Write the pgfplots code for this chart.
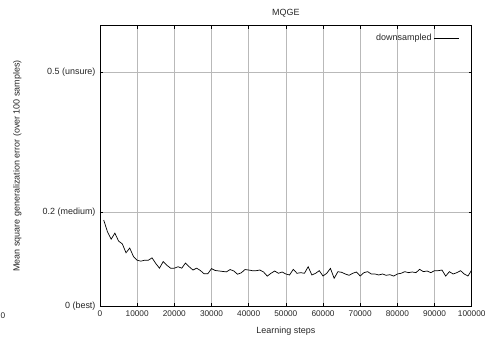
\documentclass[border=0pt]{standalone}
\usepackage{pgfplots}
\pgfplotsset{compat=1.18}
\usepackage{fontspec}
\setmainfont{Liberation Sans}

\pgfplotstableread{
step err
1000 0.184
2000 0.159
3000 0.143
4000 0.156
5000 0.139
6000 0.133
7000 0.114
8000 0.124
9000 0.106
10000 0.098
11000 0.096
12000 0.098
13000 0.098
14000 0.103
15000 0.091
16000 0.081
17000 0.095
18000 0.087
19000 0.081
20000 0.081
21000 0.084
22000 0.081
23000 0.092
24000 0.084
25000 0.077
26000 0.081
27000 0.076
28000 0.069
29000 0.069
30000 0.080
31000 0.076
32000 0.075
33000 0.074
34000 0.073
35000 0.078
36000 0.075
37000 0.068
38000 0.071
39000 0.078
40000 0.077
41000 0.0756
42000 0.0756
43000 0.077
44000 0.0728
45000 0.064
46000 0.070
47000 0.0749
48000 0.070
49000 0.0728
50000 0.0685
51000 0.0664
52000 0.0785
53000 0.070
54000 0.0714
55000 0.070
56000 0.084
57000 0.0664
58000 0.070
59000 0.0756
60000 0.0642
61000 0.070
62000 0.0805
63000 0.0593
64000 0.0735
65000 0.0721
66000 0.0685
67000 0.0657
68000 0.070
69000 0.0728
70000 0.0642
71000 0.0714
72000 0.0735
73000 0.0685
74000 0.0685
75000 0.0664
76000 0.0685
77000 0.0657
78000 0.0671
79000 0.064
80000 0.0685
81000 0.070
82000 0.0735
83000 0.0714
84000 0.0728
85000 0.0714
86000 0.0785
87000 0.0735
88000 0.0749
89000 0.0714
90000 0.0756
91000 0.0756
92000 0.077
93000 0.064
94000 0.0735
95000 0.0685
96000 0.0714
97000 0.0756
98000 0.0685
99000 0.0642
100000 0.077
}\mqge

\begin{document}
\begin{tikzpicture}
\useasboundingbox (-100bp,-33bp) rectangle (390bp,306bp);
\begin{axis}[
  at={(0,0)}, anchor=south west,
  scale only axis,
  width=371.7bp, height=280.3bp,
  xmin=0, xmax=100000,
  ymin=0, ymax=0.6,
  xtick={0,10000,...,100000},
  ytick={0,0.2,0.5},
  yticklabels={0 (best),0.2 (medium),0.5 (unsure)},
  scaled x ticks=false,
  /pgf/number format/assume math mode=true,
  tick label style={font=\fontsize{9}{10}\selectfont, text=black!85},
  xticklabel style={font=\fontsize{8.3}{10}\selectfont, yshift=-1bp,
    /pgf/number format/.cd, fixed, 1000 sep={}},
  yticklabel style={xshift=-1bp},
  label style={font=\fontsize{9}{10}\selectfont, text=black!85},
  title style={font=\fontsize{9}{10}\selectfont, text=black!85,
    at={(rel axis cs:0.5,1)}, anchor=center, yshift=6.7bp},
  title={MQGE},
  xlabel={Learning steps},
  ylabel={Mean square generalization error (over 100 samples)},
  xlabel style={at={(rel axis cs:0.5,0)}, anchor=center, yshift=-25.5bp},
  ylabel style={at={(rel axis cs:-0.2225,0.5)}, anchor=center},
  tick align=inside,
  major tick length=3bp,
  tick style={black, line width=0.6bp},
  axis line style={black, line width=0.8bp},
  grid=major,
  major grid style={gray!55, line width=0.6bp},
  legend plot pos=right,
  legend style={draw=none, fill=none, at={(0.975,0.985)}, anchor=north east,
    font=\fontsize{9}{10}\selectfont, text=black!85,
    legend cell align=right},
  legend image code/.code={\draw[#1] (0bp,0bp) -- (25bp,0bp);},
  clip=false,
]
\addplot[black, line width=0.7bp] table[x=step, y=err] {\mqge};
\addlegendentry{downsampled}
\node[font=\fontsize{8.3}{10}\selectfont, text=black!85, anchor=center]
  at (rel axis cs:-0.261,0) [yshift=-9.7bp] {0};
\end{axis}
\end{tikzpicture}
\end{document}
